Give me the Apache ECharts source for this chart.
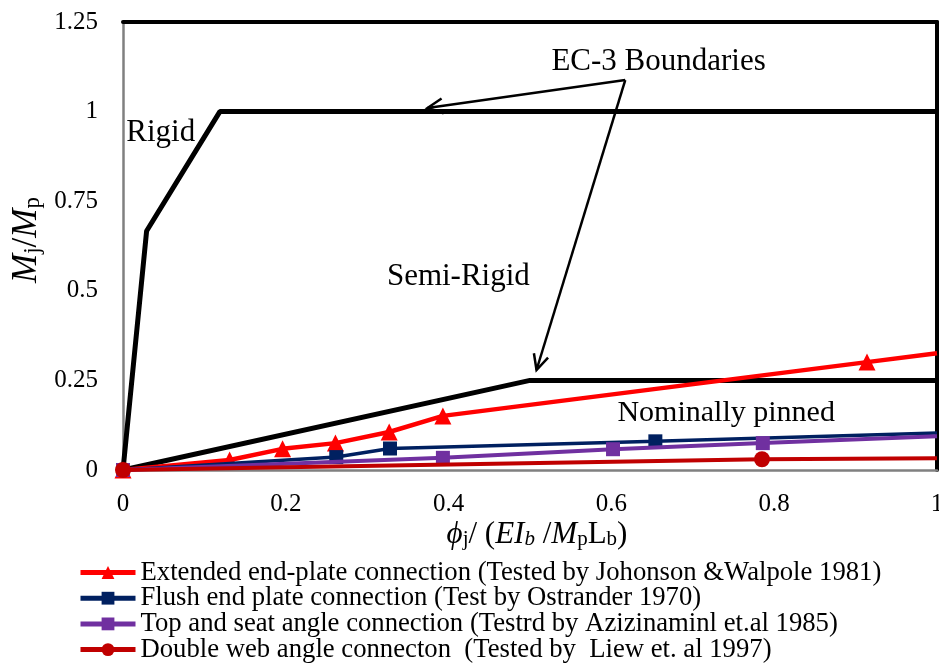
<!DOCTYPE html>
<html>
<head>
<meta charset="utf-8">
<script src="https://cdn.jsdelivr.net/npm/echarts@6/dist/echarts.min.js"></script>
<style>
  html, body { margin: 0; padding: 0; background: #fff; }
  #chart { width: 939px; height: 663px; }
</style>
</head>
<body>
<div id="chart"></div>
<script>
// EC-3 classification boundaries (rotation, moment ratio)
const rigidBoundary = [[0, 0], [0.029, 0.667], [0.119, 1.0], [1.0, 1.0]];
const semiRigidBoundary = [[0, 0], [0.5, 0.25], [1.0, 0.25]];

// Test curves: [normalised rotation, Mj/Mp]
const extendedEndPlate = [[0, 0], [0.131, 0.028], [0.196, 0.059], [0.261, 0.075], [0.327, 0.106], [0.393, 0.151], [0.914, 0.301], [1.0, 0.326]];
const flushEndPlate = [[0, 0], [0.262, 0.036], [0.328, 0.06], [0.654, 0.08], [1.0, 0.103]];
const topSeatAngle = [[0, 0], [0.393, 0.034], [0.602, 0.058], [0.786, 0.075], [1.0, 0.094]];
const doubleWebAngle = [[0, 0], [0.785, 0.03], [1.0, 0.033]];

const seriesNames = [
  'Extended end-plate connection (Tested by Johonson &Walpole 1981)',
  'Flush end plate connection (Test by Ostrander 1970)',
  'Top and seat angle connection (Testrd by Azizinaminl et.al 1985)',
  'Double web angle connecton  (Tested by  Liew et. al 1997)'
];

const xTicks = [0, 0.2, 0.4, 0.6, 0.8, 1];
const yTicks = [0, 0.25, 0.5, 0.75, 1, 1.25];

// Region labels and the arrows pointing at the boundaries, in data units
const regionLabels = [
  { text: 'EC-3 Boundaries', at: [0.658, 1.138], align: 'center', size: 31 },
  { text: 'Rigid', at: [0.004, 0.94], align: 'left', size: 31 },
  { text: 'Semi-Rigid', at: [0.412, 0.538], align: 'center', size: 31 },
  { text: 'Nominally pinned', at: [0.741, 0.158], align: 'center', size: 30 }
];
const arrowFrom = [0.617, 1.088];
const arrowTargets = [[0.374, 1.01], [0.508, 0.279]];

const FONT = '"Liberation Serif", "Times New Roman", serif';

// Endpoints on the right edge continue the line only, without a marker
function withEdgeNoSymbol(arr) {
  return arr.map(p => p[0] >= 1 ? { value: p, symbol: 'none' } : p);
}

const chart = echarts.init(document.getElementById('chart'), null, { renderer: 'canvas' });

// One legend row per test series, stacked tightly under the plot
const legends = seriesNames.map((name, i) => ({
  data: [name],
  orient: 'vertical',
  left: 78,
  top: 559 + i * 25.7,
  itemWidth: 55,
  itemHeight: 16,
  padding: 0,
  lineStyle: { width: 5 },
  textStyle: { fontFamily: FONT, fontSize: 26.7, color: '#000' }
}));

const option = {
  animation: false,
  backgroundColor: '#fff',
  textStyle: { fontFamily: FONT },
  grid: { left: 123, right: 2, top: 22, bottom: 193, containLabel: false, outerBoundsMode: 'none' },
  legend: legends,
  xAxis: [
    {
      type: 'value', min: 0, max: 1, interval: 0.2,
      axisLine: { show: true, onZero: false, lineStyle: { color: '#808080', width: 2.5 } },
      axisTick: { show: false },
      splitLine: { show: false },
      axisLabel: {
        color: '#000', fontFamily: FONT, fontSize: 25, margin: 22,
        formatter: v => xTicks.includes(+v.toFixed(2)) ? String(+v.toFixed(2)) : ''
      }
    },
    {
      type: 'value', min: 0, max: 1, position: 'top',
      axisLine: { show: true, onZero: false, lineStyle: { color: '#000', width: 4 } },
      axisTick: { show: false }, axisLabel: { show: false }, splitLine: { show: false }
    }
  ],
  yAxis: [
    {
      type: 'value', min: 0, max: 1.25, interval: 0.25,
      axisLine: { show: true, onZero: false, lineStyle: { color: '#808080', width: 2.5 } },
      axisTick: { show: false },
      splitLine: { show: false },
      axisLabel: {
        color: '#000', fontFamily: FONT, fontSize: 25, margin: 25,
        formatter: v => { const r = +v.toFixed(2); return yTicks.includes(r) ? String(r) : ''; }
      }
    },
    {
      type: 'value', min: 0, max: 1.25, position: 'right',
      axisLine: { show: true, onZero: false, lineStyle: { color: '#000', width: 4 } },
      axisTick: { show: false }, axisLabel: { show: false }, splitLine: { show: false }
    }
  ],
  series: [
    {
      name: 'Rigid boundary', type: 'line', data: rigidBoundary, symbol: 'none',
      lineStyle: { color: '#000', width: 5 }, z: 2, silent: true
    },
    {
      name: 'Semi-rigid boundary', type: 'line', data: semiRigidBoundary, symbol: 'none',
      lineStyle: { color: '#000', width: 5 }, z: 2, silent: true
    },
    {
      name: seriesNames[0], type: 'line', data: withEdgeNoSymbol(extendedEndPlate),
      symbol: 'triangle', symbolSize: 17,
      itemStyle: { color: '#FF0000' }, lineStyle: { color: '#FF0000', width: 4.5 }, z: 3
    },
    {
      name: seriesNames[1], type: 'line', data: withEdgeNoSymbol(flushEndPlate),
      symbol: 'rect', symbolSize: 14,
      itemStyle: { color: '#002060' }, lineStyle: { color: '#002060', width: 3.5 }, z: 4
    },
    {
      name: seriesNames[2], type: 'line', data: withEdgeNoSymbol(topSeatAngle),
      symbol: 'rect', symbolSize: 14,
      itemStyle: { color: '#7030A0' }, lineStyle: { color: '#7030A0', width: 4 }, z: 5
    },
    {
      name: seriesNames[3], type: 'line', data: withEdgeNoSymbol(doubleWebAngle),
      symbol: 'circle', symbolSize: 16,
      itemStyle: { color: '#C00000' }, lineStyle: { color: '#C00000', width: 4 }, z: 6
    }
  ]
};

chart.setOption(option);

// Axis titles, region labels and arrows placed from data coordinates
function drawAnnotations() {
  const px = p => chart.convertToPixel({ xAxisIndex: 0, yAxisIndex: 0 }, p);
  const elements = [];

  regionLabels.forEach(l => {
    const p = px(l.at);
    elements.push({
      type: 'text', x: p[0], y: p[1], z: 20,
      style: { text: l.text, fontFamily: FONT, fontSize: l.size, fill: '#000', align: l.align, verticalAlign: 'middle' }
    });
  });

  const a = px(arrowFrom);
  arrowTargets.forEach(t => {
    const b = px(t);
    const ang = Math.atan2(b[1] - a[1], b[0] - a[0]);
    const head = 17, spread = 0.45;
    elements.push({
      type: 'polyline', z: 20,
      shape: { points: [a, b] },
      style: { stroke: '#000', lineWidth: 2.5, fill: null }
    });
    elements.push({
      type: 'polyline', z: 20,
      shape: { points: [
        [b[0] - head * Math.cos(ang - spread), b[1] - head * Math.sin(ang - spread)],
        b,
        [b[0] - head * Math.cos(ang + spread), b[1] - head * Math.sin(ang + spread)]
      ] },
      style: { stroke: '#000', lineWidth: 2.5, fill: null }
    });
  });

  // Y axis title: Mj/Mp
  elements.push({
    type: 'text', x: 26, y: 240, rotation: Math.PI / 2, z: 20,
    style: {
      text: '{i|M}{s|j}{n|/}{i|M}{s|p}',
      align: 'center', verticalAlign: 'middle',
      rich: {
        i: { fontFamily: FONT, fontStyle: 'italic', fontSize: 35, fill: '#000', verticalAlign: 'bottom', lineHeight: 36 },
        n: { fontFamily: FONT, fontSize: 35, fill: '#000', verticalAlign: 'bottom', lineHeight: 36 },
        s: { fontFamily: FONT, fontSize: 23, fill: '#000', verticalAlign: 'bottom', lineHeight: 26 }
      }
    }
  });

  // X axis title: phi_j / (EI_b / M_p L_b)
  elements.push({
    type: 'text', x: 537, y: 534, z: 20,
    style: {
      text: '{i|ϕ}{s|j}{n|/ (}{i|EI}{si|b}{n| /}{i|M}{s|p}{n|L}{s|b}{n|)}',
      align: 'center', verticalAlign: 'middle',
      rich: {
        i: { fontFamily: FONT, fontStyle: 'italic', fontSize: 31, fill: '#000', verticalAlign: 'bottom', lineHeight: 32 },
        n: { fontFamily: FONT, fontSize: 31, fill: '#000', verticalAlign: 'bottom', lineHeight: 32 },
        s: { fontFamily: FONT, fontSize: 21, fill: '#000', verticalAlign: 'bottom', lineHeight: 24 },
        si: { fontFamily: FONT, fontStyle: 'italic', fontSize: 21, fill: '#000', verticalAlign: 'bottom', lineHeight: 24 }
      }
    }
  });

  chart.setOption({ graphic: { elements } });
}

drawAnnotations();
</script>
</body>
</html>
